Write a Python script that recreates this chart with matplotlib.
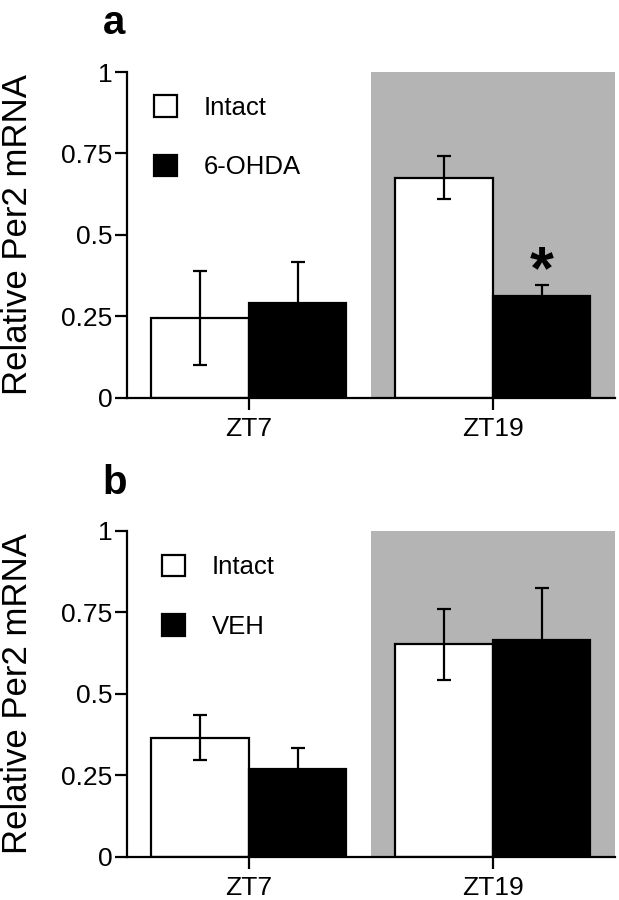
import matplotlib.pyplot as plt
import numpy as np
from matplotlib.patches import Patch

plt.rcParams['font.family'] = ['Liberation Sans', 'DejaVu Sans']

groups = ['ZT7', 'ZT19']
yticks = [0, 0.25, 0.5, 0.75, 1]
yticklabels = ['0', '0.25', '0.5', '0.75', '1']

# panel a
a_labels = ['Intact', '6-OHDA']
a_intact = [0.245, 0.676]
a_intact_err = [0.145, 0.067]
a_treat = [0.291, 0.313]
a_treat_err = [0.125, 0.034]

# panel b
b_labels = ['Intact', 'VEH']
b_intact = [0.366, 0.652]
b_intact_err = [0.069, 0.108]
b_treat = [0.271, 0.665]
b_treat_err = [0.064, 0.160]

shade = '#b4b4b4'
w = 0.4
lw = 1.6


def panel(ax, intact, intact_err, treat, treat_err, labels, leg_anchor):
    x = np.arange(len(groups))
    ax.axvspan(0.5, 1.5, color=shade, lw=0, zorder=0)
    ax.bar(x - w / 2, intact, w, color='white', edgecolor='black', lw=lw, zorder=2)
    ax.bar(x + w / 2, treat, w, color='black', edgecolor='black', lw=lw, zorder=2)
    ax.errorbar(x - w / 2, intact, yerr=intact_err, fmt='none', ecolor='black',
                elinewidth=lw, capsize=5, capthick=lw, zorder=3)
    ax.errorbar(x + w / 2, treat, yerr=treat_err, fmt='none', ecolor='black',
                elinewidth=lw, capsize=5, capthick=lw, zorder=3)
    ax.set_xlim(-0.5, 1.5)
    ax.set_ylim(0, 1)
    ax.set_xticks(x)
    ax.set_xticklabels(groups, fontsize=19)
    ax.set_yticks(yticks)
    ax.set_yticklabels(yticklabels, fontsize=19)
    ax.tick_params(axis='both', direction='out', length=8.5, width=lw, color='black')
    ax.tick_params(axis='y', pad=2)
    ax.tick_params(axis='x', pad=5)
    for s in ['top', 'right']:
        ax.spines[s].set_visible(False)
    for s in ['left', 'bottom']:
        ax.spines[s].set_linewidth(lw)
    ax.set_ylabel('Relative Per2 mRNA', fontsize=25)
    ax.yaxis.set_label_coords(-0.19, 0.5)
    handles = [Patch(facecolor='white', edgecolor='black', lw=lw),
               Patch(facecolor='black', edgecolor='black', lw=lw)]
    ax.legend(handles, labels, loc='upper left', bbox_to_anchor=leg_anchor,
              frameon=False, fontsize=18.5, handlelength=0.9, handleheight=0.9,
              handletextpad=1.05, labelspacing=1.35, borderaxespad=0)


fig = plt.figure(figsize=(6.19, 9), dpi=100)
ax1 = fig.add_axes([0.205, 0.558, 0.788, 0.362])
ax2 = fig.add_axes([0.205, 0.048, 0.788, 0.362])

panel(ax1, a_intact, a_intact_err, a_treat, a_treat_err, a_labels, (0.034, 0.96))
panel(ax2, b_intact, b_intact_err, b_treat, b_treat_err, b_labels, (0.05, 0.958))

ax1.text(1 + w / 2, 0.298, '*', ha='center', va='bottom',
         fontsize=44, fontweight='bold')

fig.text(0.166, 0.975, 'a', fontsize=29, fontweight='bold', va='center', ha='left')
fig.text(0.166, 0.463, 'b', fontsize=29, fontweight='bold', va='center', ha='left')

fig.savefig('out.png', dpi=100)
